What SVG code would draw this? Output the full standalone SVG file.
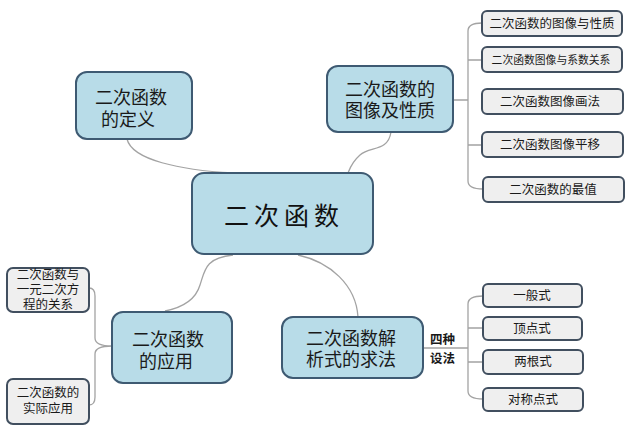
<svg xmlns="http://www.w3.org/2000/svg" width="640" height="436" viewBox="0 0 640 436">
<style>
.main{fill:#b8dce8;stroke:#3e5a72;stroke-width:2}
.leaf{fill:#efefef;stroke:#414f5f;stroke-width:2}
.t{font-family:"Liberation Sans","Noto Sans CJK SC",sans-serif;fill:#1a1a1a;text-anchor:middle;dominant-baseline:central}
.tm{font-size:18px}
.tl{font-size:12.5px}
.ts{font-size:10.8px}
.tb{font-size:12.5px;font-weight:bold;text-anchor:start}
.c{fill:none;stroke:#a3a3a3;stroke-width:1.3}
.center{font-family:"Liberation Serif","Noto Sans CJK SC",serif;font-size:25px;letter-spacing:5px;fill:#111;text-anchor:middle;dominant-baseline:central}
</style>
<rect width="640" height="436" fill="#fff"/>
<g id="connectors">
<path class="c" d="M127,139 C132,160 180,170 233,173"/>
<path class="c" d="M391,132 C388,152 370,146 360,155 C352,162 350,168 348,173"/>
<path class="c" d="M233,255 C205,258 205,270 200,285 C195,302 180,308 165,311"/>
<path class="c" d="M298,255 C330,262 356,285 358,317"/>
<path class="c" d="M453,100 L468,100 M482,23 Q468,23 468,31 L468,181 Q468,189 483,189 M468,60 H482 M468,145 H482"/>
<path class="c" d="M423,348 H468 M483,296 Q468,296 468,304 L468,391 Q468,399 483,399 M468,328 H483 M468,362 H483"/>
<path class="c" d="M89,288 Q95,288 95,296 L95,338 Q95,346 112,346 M89,405 Q95,405 95,397 L95,354 Q95,346 112,346"/>
</g>
<g id="center">
<rect class="main" x="192" y="173" width="181" height="81" rx="12"/>
<text class="center" x="284" y="216">二次函数</text>
</g>
<g id="def">
<rect class="main" x="76" y="72" width="116" height="67" rx="11"/>
<text class="t tm" x="131" y="98">二次函数</text>
<text class="t tm" x="128" y="120">的定义</text>
</g>
<g id="image">
<rect class="main" x="327" y="66" width="126" height="66" rx="11"/>
<text class="t tm" x="390" y="90">二次函数的</text>
<text class="t tm" x="390" y="111">图像及性质</text>
</g>
<g id="apply">
<rect class="main" x="112" y="312" width="120" height="71" rx="11"/>
<text class="t tm" x="168" y="340">二次函数</text>
<text class="t tm" x="166" y="362">的应用</text>
</g>
<g id="analytic">
<rect class="main" x="282" y="317" width="141" height="61" rx="11"/>
<text class="t tm" x="351" y="339">二次函数解</text>
<text class="t tm" x="351" y="360">析式的求法</text>
</g>
<g id="label-four">
<text class="t tb" x="430" y="340">四种</text>
<text class="t tb" x="430" y="359">设法</text>
</g>
<g id="leaf-r1">
<rect class="leaf" x="482" y="11" width="140" height="25" rx="5"/>
<text class="t tl" x="552" y="23.5">二次函数的图像与性质</text>
</g>
<g id="leaf-r2">
<rect class="leaf" x="482" y="47" width="140" height="25" rx="5"/>
<text class="t ts" x="551" y="59.5">二次函数图像与系数关系</text>
</g>
<g id="leaf-r3">
<rect class="leaf" x="482" y="89" width="141" height="25" rx="5"/>
<text class="t tl" x="550" y="101.5">二次函数图像画法</text>
</g>
<g id="leaf-r4">
<rect class="leaf" x="482" y="132" width="141" height="25" rx="5"/>
<text class="t tl" x="550" y="144.5">二次函数图像平移</text>
</g>
<g id="leaf-r5">
<rect class="leaf" x="483" y="177" width="141" height="25" rx="5"/>
<text class="t tl" x="553" y="189.5">二次函数的最值</text>
</g>
<g id="leaf-l1">
<rect class="leaf" x="7" y="268" width="82" height="44" rx="6"/>
<text class="t tl" x="48" y="275">二次函数与</text>
<text class="t tl" x="48" y="290">一元二次方</text>
<text class="t tl" x="48" y="305">程的关系</text>
</g>
<g id="leaf-l2">
<rect class="leaf" x="7" y="379" width="82" height="45" rx="6"/>
<text class="t tl" x="48" y="393">二次函数的</text>
<text class="t tl" x="48" y="409">实际应用</text>
</g>
<g id="leaf-b1">
<rect class="leaf" x="483" y="284" width="99" height="23" rx="5"/>
<text class="t tl" x="532" y="295.5">一般式</text>
</g>
<g id="leaf-b2">
<rect class="leaf" x="483" y="317" width="99" height="23" rx="5"/>
<text class="t tl" x="532" y="328.5">顶点式</text>
</g>
<g id="leaf-b3">
<rect class="leaf" x="483" y="350" width="100" height="24" rx="5"/>
<text class="t tl" x="533" y="362">两根式</text>
</g>
<g id="leaf-b4">
<rect class="leaf" x="483" y="388" width="100" height="23" rx="5"/>
<text class="t tl" x="533" y="399.5">对称点式</text>
</g>
</svg>
